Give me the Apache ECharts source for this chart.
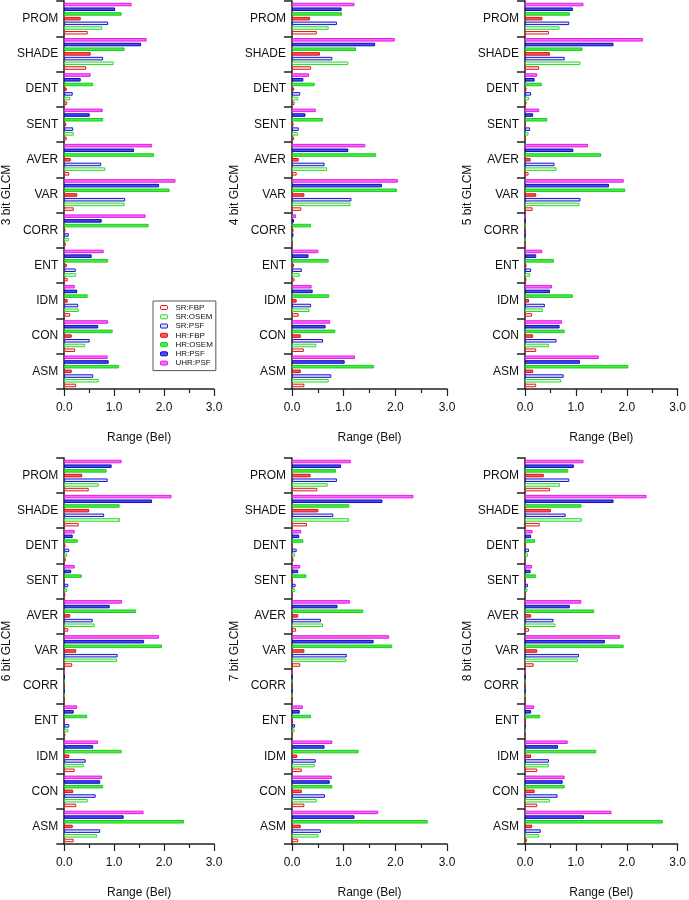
<!DOCTYPE html>
<html><head><meta charset="utf-8">
<script src="https://cdn.jsdelivr.net/npm/echarts@6/dist/echarts.min.js"></script>
<style>html,body{margin:0;padding:0;background:#fff}#c{width:689px;height:900px}</style>
</head><body><div id="c"></div>
<script>
// Categories bottom -> top
const categories = ['ASM','CON','IDM','ENT','CORR','VAR','AVER','SENT','DENT','SHADE','PROM'];
const panelTitles = ['3 bit GLCM','4 bit GLCM','5 bit GLCM','6 bit GLCM','7 bit GLCM','8 bit GLCM'];
const xTickLabels = ['0.0','1.0','2.0','3.0'];
const axisTitle = 'Range (Bel)';
const legendNames = ['SR:FBP','SR:OSEM','SR:PSF','HR:FBP','HR:OSEM','HR:PSF','UHR:PSF'];

// one row per panel (3..8 bit), values in category order
const srFbp = [
  [0.24,0.22,0.12,0.07,0.03,0.19,0.10,0.05,0.06,0.44,0.47],
  [0.24,0.23,0.13,0.05,0.02,0.18,0.09,0.04,0.05,0.37,0.48],
  [0.22,0.22,0.14,0.03,0.01,0.15,0.07,0.02,0.03,0.28,0.47],
  [0.19,0.24,0.21,0.02,0.01,0.16,0.08,0.02,0.03,0.29,0.49],
  [0.12,0.24,0.19,0.02,0.01,0.16,0.08,0.02,0.03,0.29,0.49],
  [0.04,0.24,0.24,0.02,0.01,0.17,0.08,0.02,0.02,0.29,0.49]
];
const srOsem = [
  [0.69,0.42,0.29,0.24,0.09,1.21,0.82,0.19,0.12,0.99,0.76],
  [0.71,0.47,0.34,0.15,0.02,1.13,0.68,0.12,0.12,1.09,0.71],
  [0.71,0.47,0.35,0.10,0.01,1.07,0.62,0.07,0.08,1.09,0.68],
  [0.66,0.47,0.39,0.08,0.01,1.06,0.61,0.06,0.06,1.12,0.69],
  [0.51,0.48,0.44,0.05,0.01,1.05,0.60,0.06,0.06,1.11,0.69],
  [0.28,0.49,0.47,0.02,0.01,1.04,0.60,0.05,0.06,1.12,0.69]
];
const srPsf = [
  [0.58,0.51,0.28,0.23,0.09,1.22,0.74,0.18,0.17,0.78,0.88],
  [0.76,0.60,0.37,0.19,0.03,1.15,0.63,0.13,0.16,0.78,0.87],
  [0.76,0.62,0.39,0.12,0.01,1.09,0.58,0.10,0.12,0.78,0.87],
  [0.72,0.63,0.43,0.10,0.01,1.07,0.57,0.08,0.10,0.80,0.87],
  [0.56,0.64,0.46,0.06,0.01,1.06,0.56,0.07,0.09,0.80,0.87],
  [0.31,0.64,0.47,0.02,0.01,1.06,0.56,0.06,0.08,0.80,0.87]
];
const hrFbp = [
  [0.15,0.15,0.07,0.05,0.02,0.26,0.13,0.04,0.05,0.53,0.33],
  [0.17,0.17,0.09,0.04,0.03,0.24,0.13,0.03,0.04,0.54,0.35],
  [0.16,0.16,0.08,0.03,0.01,0.22,0.11,0.02,0.03,0.49,0.34],
  [0.17,0.18,0.10,0.01,0.01,0.24,0.12,0.01,0.02,0.50,0.36],
  [0.17,0.19,0.10,0.01,0.01,0.24,0.12,0.01,0.02,0.51,0.36],
  [0.14,0.19,0.12,0.01,0.01,0.24,0.12,0.01,0.02,0.51,0.37]
];
const hrOsem = [
  [1.10,0.97,0.47,0.88,1.69,2.11,1.80,0.78,0.58,1.21,1.15],
  [1.59,0.84,0.72,0.71,0.37,2.03,1.63,0.60,0.44,1.24,0.97],
  [2.03,0.78,0.94,0.57,0.01,1.97,1.50,0.44,0.33,1.13,0.88],
  [2.40,0.78,1.15,0.46,0.01,1.96,1.44,0.35,0.27,1.11,0.85],
  [2.63,0.78,1.29,0.37,0.01,1.94,1.38,0.28,0.22,1.11,0.85],
  [2.71,0.78,1.40,0.30,0.01,1.94,1.36,0.22,0.20,1.11,0.85]
];
const hrPsf = [
  [0.89,0.68,0.26,0.55,0.75,1.90,1.40,0.51,0.33,1.54,1.02],
  [1.02,0.65,0.40,0.32,0.04,1.74,1.09,0.26,0.22,1.61,0.96],
  [1.08,0.68,0.49,0.22,0.01,1.65,0.95,0.16,0.19,1.74,0.94],
  [1.19,0.72,0.58,0.19,0.01,1.60,0.91,0.14,0.17,1.76,0.95],
  [1.21,0.73,0.63,0.15,0.01,1.58,0.88,0.12,0.14,1.75,0.95],
  [1.16,0.74,0.65,0.12,0.01,1.57,0.88,0.11,0.12,1.74,0.96]
];
const uhrPsf = [
  [0.87,0.88,0.21,0.79,1.63,2.23,1.76,0.77,0.53,1.65,1.35],
  [1.22,0.74,0.38,0.51,0.08,2.05,1.42,0.46,0.33,1.99,1.21],
  [1.45,0.73,0.53,0.34,0.01,1.94,1.24,0.28,0.24,2.32,1.15],
  [1.59,0.76,0.68,0.26,0.01,1.90,1.16,0.21,0.21,2.15,1.15],
  [1.67,0.77,0.78,0.21,0.01,1.88,1.12,0.16,0.18,2.35,1.14],
  [1.70,0.78,0.84,0.18,0.01,1.87,1.11,0.14,0.15,2.39,1.15]
];

// styles (top-to-bottom drawing order within a category)
const seriesDefs = [
  {name:'UHR:PSF', data:uhrPsf, fill:'#ff66ff', border:'#e01ee0'},
  {name:'HR:PSF',  data:hrPsf,  fill:'#4b4bff', border:'#0a0ab4'},
  {name:'HR:OSEM', data:hrOsem, fill:'#44ee44', border:'#1ccc1c'},
  {name:'HR:FBP',  data:hrFbp,  fill:'#ff5555', border:'#d81010'},
  {name:'SR:PSF',  data:srPsf,  fill:'#e2e2ff', border:'#1414d0'},
  {name:'SR:OSEM', data:srOsem, fill:'#e4ffe4', border:'#2ad82a'},
  {name:'SR:FBP',  data:srFbp,  fill:'#fff0f0', border:'#e01818'}
];

const lefts = [59, 292, 525];
const tops = [1, 458];
const W = 155, H = 388;
const txt = '#111';
const font = 'Liberation Sans, Arial, Helvetica, sans-serif';

const grid = [], xAxis = [], yAxis = [], series = [];
for (let p = 0; p < 6; p++) {
  const col = p % 3, row = Math.floor(p / 3);
  grid.push({left: lefts[col], top: tops[row], width: W, height: H, containLabel: false});
  xAxis.push({
    type: 'value', gridIndex: p, min: 0, max: 3, interval: 1,
    name: axisTitle, nameLocation: 'middle', nameGap: 43,
    nameTextStyle: {fontSize: 12, color: txt, fontFamily: font},
    axisLine: {show: true, lineStyle: {color: '#222', width: 1.5}},
    axisTick: {show: true, length: 7, lineStyle: {color: '#222', width: 1.2}},
    minorTick: {show: true, splitNumber: 2, length: 4, lineStyle: {color: '#222', width: 1.2}},
    splitLine: {show: false}, minorSplitLine: {show: false},
    axisLabel: {margin: 13, fontSize: 12, color: txt, fontFamily: font,
      formatter: v => xTickLabels[Math.round(v)]}
  });
  yAxis.push({
    type: 'category', gridIndex: p, data: categories,
    name: panelTitles[p], nameLocation: 'middle', nameGap: 40, nameRotate: 90,
    nameTextStyle: {fontSize: 12, color: txt, fontFamily: font},
    axisLine: {show: true, lineStyle: {color: '#222', width: 1.5}},
    axisTick: {show: true, interval: 0, length: 8, lineStyle: {color: '#222', width: 1.5}},
    axisLabel: {interval: 0, margin: 6, fontSize: 12, color: txt, fontFamily: font},
    splitLine: {show: false}
  });
  seriesDefs.forEach(s => {
    series.push({
      type: 'bar', name: s.name, xAxisIndex: p, yAxisIndex: p,
      data: s.data[p], barGap: '33%', barCategoryGap: '10%',
      itemStyle: {color: s.fill, borderColor: s.border, borderWidth: 1},
      emphasis: {disabled: true}
    });
  });
}

const chart = echarts.init(document.getElementById('c'), null, {renderer: 'canvas'});
chart.setOption({
  animation: false,
  backgroundColor: '#fff',
  grid, xAxis, yAxis, series,
  legend: {
    data: legendNames, orient: 'vertical', left: 153, top: 301,
    itemWidth: 7, itemHeight: 4, itemGap: 0.27,
    padding: [2, 3, 3, 7],
    borderColor: '#555', borderWidth: 1, backgroundColor: '#fff',
    selectedMode: false,
    itemStyle: {borderWidth: 1},
    textStyle: {fontSize: 8, color: txt, fontFamily: font, lineHeight: 9, padding: [0,0,0,3]}
  }
});
</script>
</body></html>
